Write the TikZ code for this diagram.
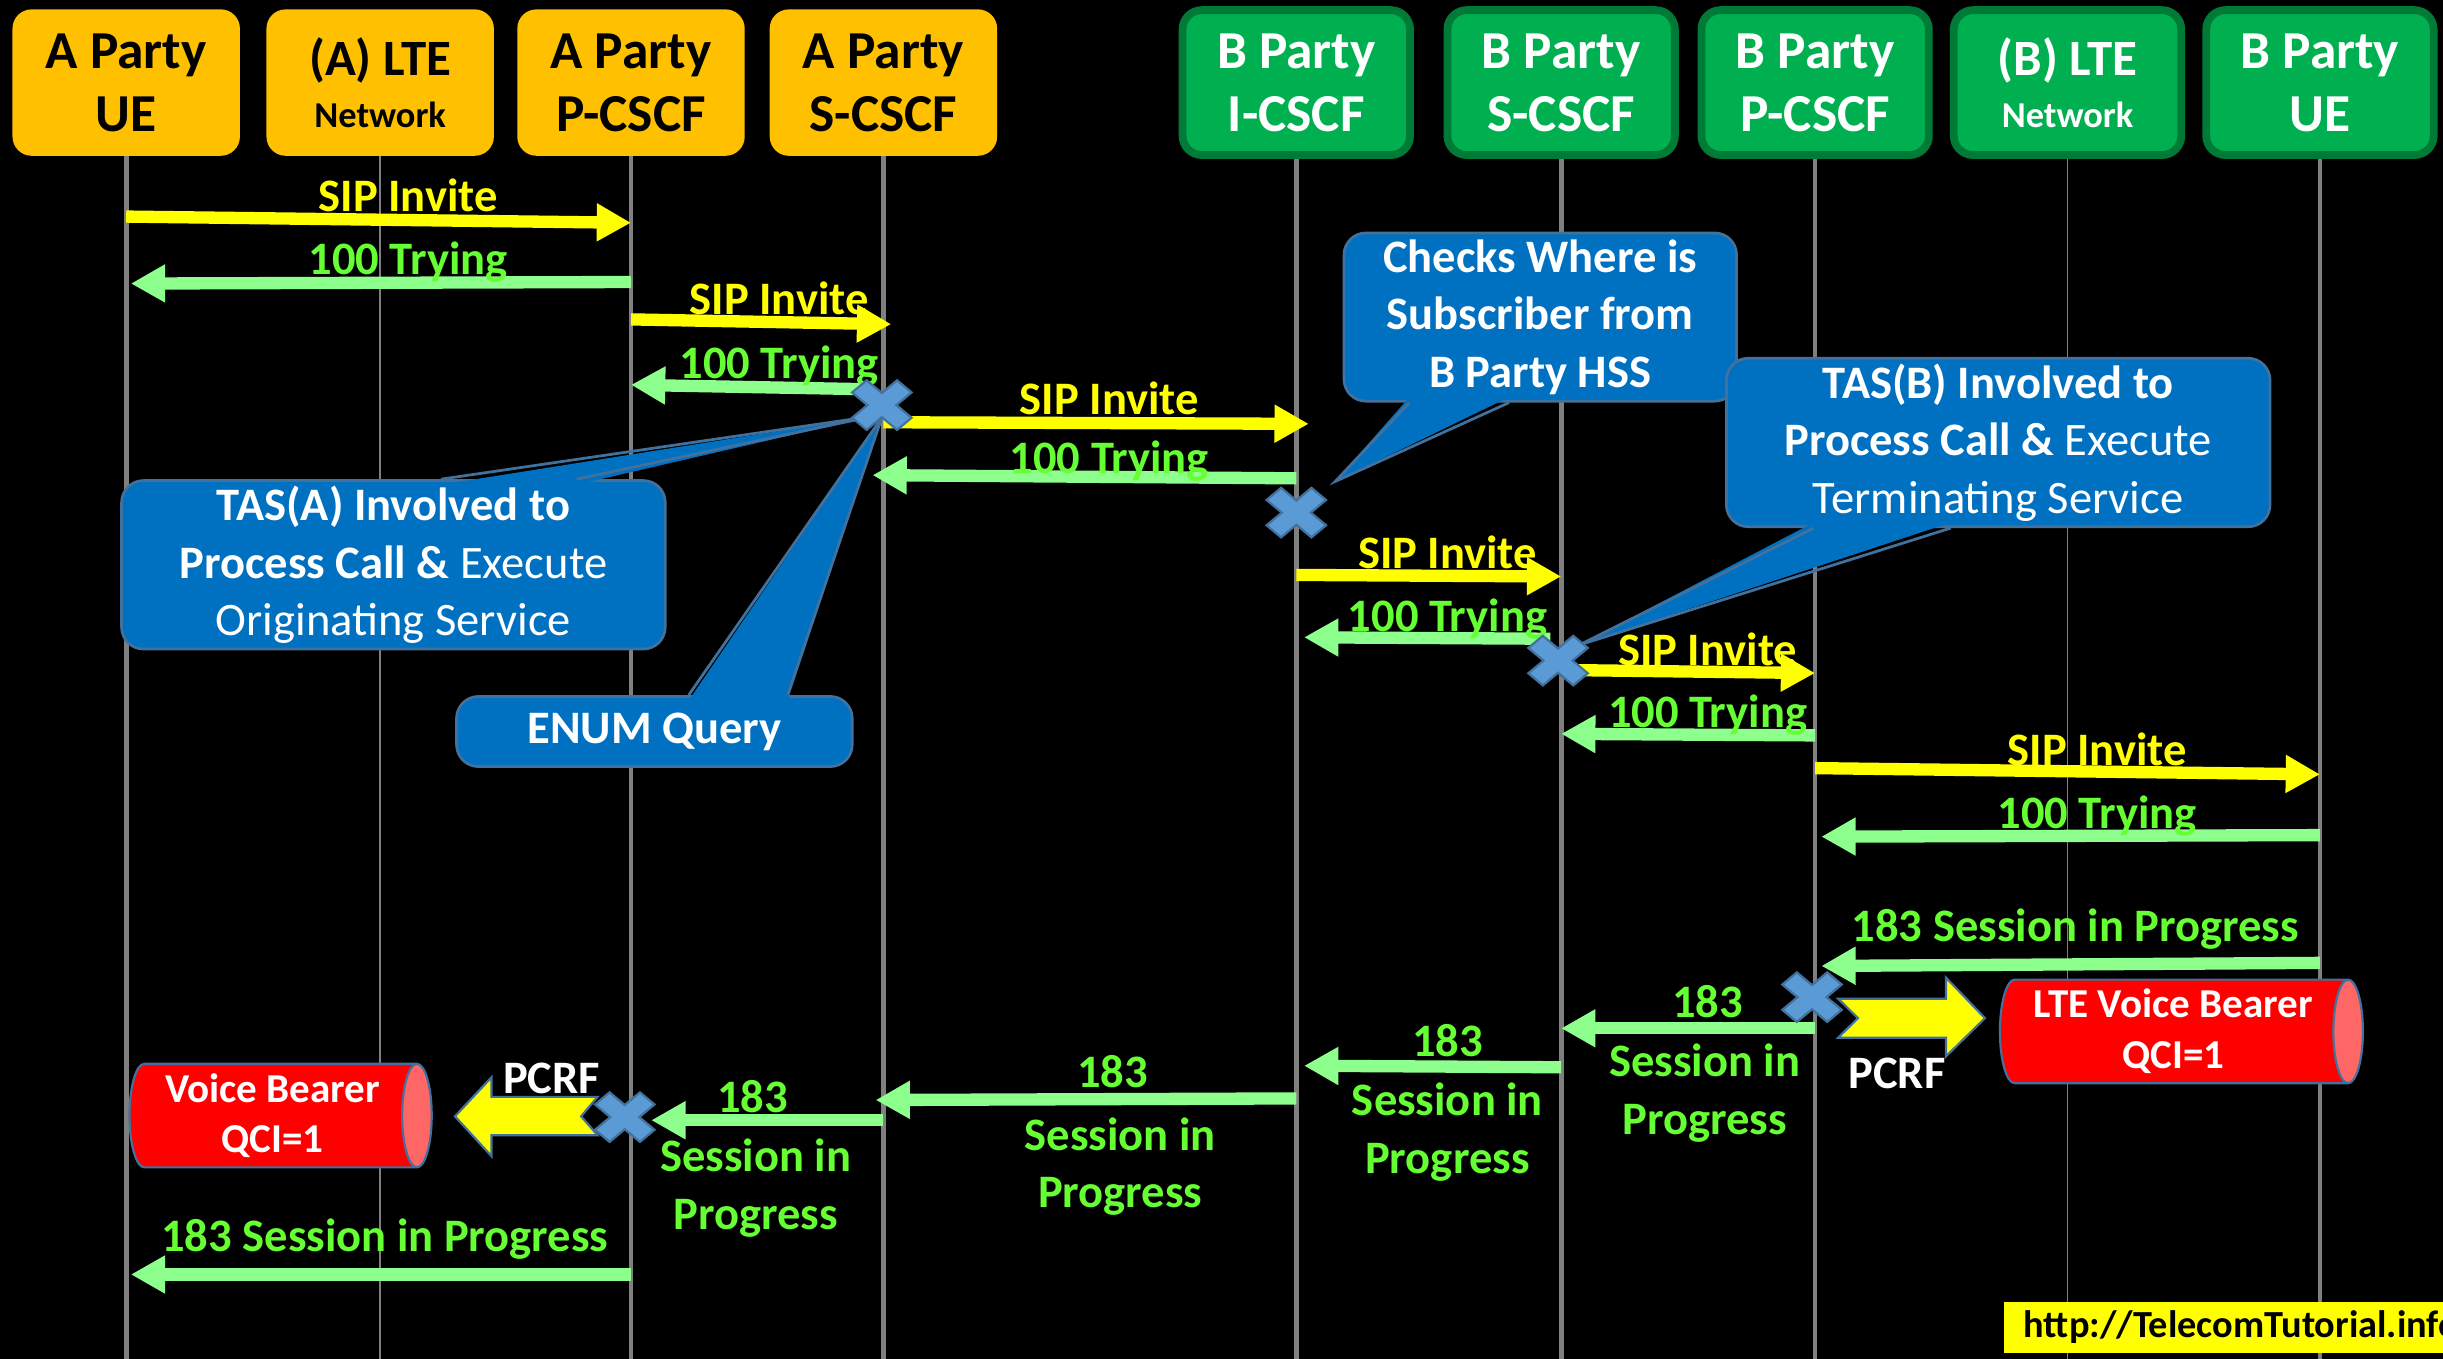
\documentclass[tikz,border=0pt]{standalone}
\definecolor{hdrorange}{RGB}{255, 192, 0}
\definecolor{hdrgreen}{RGB}{0, 176, 80}
\definecolor{hdrgreenline}{RGB}{0, 122, 55}
\definecolor{sipyellow}{RGB}{255, 255, 0}
\definecolor{tryarrow}{RGB}{140, 255, 140}
\definecolor{trytext}{RGB}{102, 255, 51}
\definecolor{noteblue}{RGB}{0, 112, 192}
\definecolor{noteline}{RGB}{65, 113, 156}
\definecolor{markblue}{RGB}{91, 155, 213}
\definecolor{lifegray}{RGB}{127, 127, 127}
\definecolor{bearerred}{RGB}{255, 0, 0}
\definecolor{bearerend}{RGB}{255, 102, 102}
\usepackage{fontspec}
\setmainfont{Carlito}
\usepackage{tikz}
\usetikzlibrary{shapes.geometric, arrows.meta, positioning}

\newcommand\hdrfont{\fontsize{19.5}{23}\selectfont\bfseries}
\newcommand\ltefont{\fontsize{18.6}{22}\selectfont}
\newcommand\netfont{\fontsize{13.3}{16}\selectfont}
\newcommand\msgfont{\fontsize{17}{21}\selectfont\bfseries}
\newcommand\bearerfont{\fontsize{15}{18.5}\selectfont\bfseries}
\newcommand\urlfont{\fontsize{14}{17}\selectfont\bfseries}

\tikzset{
  hdrA/.style={fill=hdrorange, rounded corners=7pt, minimum width=2.92cm, minimum height=1.88cm, align=center, text=black, font=\hdrfont, inner sep=2pt},
  hdrB/.style={fill=hdrgreen, draw=hdrgreenline, line width=0.1cm, rounded corners=7pt, minimum width=2.92cm, minimum height=1.86cm, align=center, text=white, font=\hdrfont, inner sep=2pt},
  lifeline/.style={draw=lifegray, line width=1.7pt},
  thinline/.style={draw=lifegray, line width=0.6pt},
  sipmsg/.style={draw=sipyellow, line width=4.5pt, -{Triangle[length=0.44cm, width=0.46cm]}},
  trymsg/.style={draw=tryarrow, line width=4.5pt, -{Triangle[length=0.44cm, width=0.46cm]}},
  siplbl/.style={text=sipyellow, font=\msgfont, anchor=base, inner sep=0pt},
  trylbl/.style={text=trytext, font=\msgfont, anchor=base, inner sep=0pt, align=center},
  note/.style={fill=noteblue, draw=noteline, line width=1pt, rounded corners=8pt, text=white, align=center, font=\msgfont, inner sep=2pt},
  notetip/.style={draw=noteline, line width=1pt},
  bearer/.style={cylinder, cylinder uses custom fill, cylinder body fill=bearerred, cylinder end fill=bearerend, draw=noteline, line width=0.8pt, aspect=0.35, minimum width=1.33cm, text=white, font=\bearerfont, align=center, inner sep=0pt},
  pcrflbl/.style={text=white, font=\msgfont, inner sep=1pt},
  blockarrow/.style={fill=sipyellow, draw=noteline, line width=0.8pt},
  pics/xmark/.style={code={
    \filldraw[fill=markblue, draw=noteline, line width=0.8pt, xscale=1.2, rotate=45]
      (-5.5,17) -- (5.5,17) -- (5.5,5.5) -- (17,5.5) -- (17,-5.5) -- (5.5,-5.5) -- (5.5,-17)
      -- (-5.5,-17) -- (-5.5,-5.5) -- (-17,-5.5) -- (-17,5.5) -- (-5.5,5.5) -- cycle;
  }}
}

\begin{document}
\begin{tikzpicture}[x=0.02cm, y=-0.02cm]
  \useasboundingbox (0,0) rectangle (1568,872);
  \fill[black] (0,0) rectangle (1568,872);

  % Entities
  \node[hdrA] (hUeA) at (81,53) {A Party\\UE};
  \node[hdrA] (hLteA) at (244,53) {{\ltefont (A) LTE}\\[-4pt]{\netfont Network}};
  \node[hdrA] (hPcscfA) at (405,53) {A Party\\P-CSCF};
  \node[hdrA] (hScscfA) at (567,53) {A Party\\S-CSCF};
  \node[hdrB] (hIcscfB) at (832,53) {B Party\\I-CSCF};
  \node[hdrB] (hScscfB) at (1002,53) {B Party\\S-CSCF};
  \node[hdrB] (hPcscfB) at (1165,53) {B Party\\P-CSCF};
  \node[hdrB] (hLteB) at (1327,53) {{\ltefont (B) LTE}\\[-4pt]{\netfont Network}};
  \node[hdrB] (hUeB) at (1489,53) {B Party\\UE};

  % Lifelines
  \coordinate (ueA) at (81,872);
  \coordinate (lteA) at (244,872);
  \coordinate (pcscfA) at (405,872);
  \coordinate (scscfA) at (567,872);
  \coordinate (icscfB) at (832,872);
  \coordinate (scscfB) at (1002,872);
  \coordinate (pcscfB) at (1165,872);
  \coordinate (lteB) at (1327,872);
  \coordinate (ueB) at (1489,872);
  \draw[lifeline] (hUeA) -- (ueA);
  \draw[thinline] (hLteA) -- (lteA);
  \draw[lifeline] (hPcscfA) -- (pcscfA);
  \draw[lifeline] (hScscfA) -- (scscfA);
  \draw[lifeline] (hIcscfB) -- (icscfB);
  \draw[lifeline] (hScscfB) -- (scscfB);
  \draw[lifeline] (hPcscfB) -- (pcscfB);
  \draw[thinline] (hLteB) -- (lteB);
  \draw[lifeline] (hUeB) -- (ueB);

  % Trigger points
  \coordinate (xs1) at (566,260);
  \coordinate (xs2) at (832,329);
  \coordinate (xs3) at (1000,424);
  \coordinate (xs4) at (1163,640);
  \coordinate (xs5) at (401,717);

  % Messages
  \draw[sipmsg] (ueA |- 0,139) -- (pcscfA |- 0,143);
  \draw[trymsg, shorten >=0.06cm] (pcscfA |- 0,181) -- (ueA |- 0,182);
  \draw[sipmsg, shorten >=-0.1cm] (pcscfA |- 0,205) -- (scscfA |- 0,208);
  \draw[trymsg, shorten <=0.3cm] (scscfA |- 0,250) -- (pcscfA |- 0,247);
  \draw[sipmsg, shorten >=-0.16cm] (scscfA |- 0,271) -- (icscfB |- 0,272);
  \draw[trymsg, shorten >=-0.14cm] (icscfB |- 0,307) -- (scscfA |- 0,305);
  \draw[sipmsg] (icscfB |- 0,369) -- (scscfB |- 0,370);
  \draw[trymsg, shorten <=0.14cm, shorten >=0.1cm] (scscfB |- 0,410) -- (icscfB |- 0,409);
  \draw[sipmsg] (scscfB |- 0,430) -- (pcscfB |- 0,432);
  \draw[trymsg] (pcscfB |- 0,472) -- (scscfB |- 0,471);
  \draw[sipmsg] (pcscfB |- 0,493) -- (ueB |- 0,497);
  \draw[trymsg, shorten >=0.08cm] (ueB |- 0,536) -- (pcscfB |- 0,537);
  \draw[trymsg, shorten >=0.08cm] (ueB |- 0,618) -- (pcscfB |- 0,620);
  \draw[trymsg] (pcscfB |- 0,660) -- (scscfB |- 0,660);
  \draw[trymsg, shorten >=0.1cm] (scscfB |- 0,685) -- (icscfB |- 0,684);
  \draw[trymsg, shorten >=-0.1cm] (icscfB |- 0,705) -- (scscfA |- 0,706);
  \draw[trymsg, shorten >=0.26cm] (scscfA |- 0,719) -- (pcscfA |- 0,719);
  \draw[trymsg, shorten >=0.06cm] (pcscfA |- 0,818) -- (ueA |- 0,818);

  % Message labels
  \node[siplbl] (l1) at (262,136) {SIP Invite};
  \node[trylbl] (l2) at (262,176) {100 Trying};
  \node[siplbl] (l3) at (500,202) {SIP Invite};
  \node[trylbl] (l4) at (500,243) {100 Trying};
  \node[siplbl] (l5) at (712,266) {SIP Invite};
  \node[trylbl] (l6) at (712,304) {100 Trying};
  \node[siplbl] (l7) at (929,365) {SIP Invite};
  \node[trylbl] (l8) at (929,405) {100 Trying};
  \node[siplbl] (l9) at (1096,427) {SIP Invite};
  \node[trylbl] (l10) at (1096,467) {100 Trying};
  \node[siplbl] (l11) at (1346,491) {SIP Invite};
  \node[trylbl] (l12) at (1346,532) {100 Trying};
  \node[trylbl] (l13) at (1332,604) {183 Session in Progress};
  \node[trylbl] (l14a) at (1096,653) {183};
  \node[trylbl] (l14b) at (1094,728) {Session in\\Progress};
  \node[trylbl] (l15a) at (929,678) {183};
  \node[trylbl] (l15b) at (929,753) {Session in\\Progress};
  \node[trylbl] (l16a) at (714,698) {183};
  \node[trylbl] (l16b) at (719,775) {Session in\\Progress};
  \node[trylbl] (l17a) at (483,714) {183};
  \node[trylbl] (l17b) at (485,789) {Session in\\Progress};
  \node[trylbl] (l18) at (247,803) {183 Session in Progress};

  % Callouts
  \node[note, minimum width=6.98cm, minimum height=2.1cm] (tasA) at (252.5,362.5)
    {TAS(A) Involved to\\Process Call \& {\mdseries Execute}\\{\mdseries Originating Service}};
  \fill[noteblue] ([xshift=0.61cm, yshift=-2pt]tasA.north) -- ([xshift=-0.1cm, yshift=-0.14cm]xs1) -- ([xshift=2.35cm, yshift=-2pt]tasA.north) -- cycle;
  \draw[notetip] ([xshift=0.61cm]tasA.north) -- ([xshift=-0.1cm, yshift=-0.14cm]xs1) -- ([xshift=2.35cm]tasA.north);

  \node[note, minimum width=5.08cm, minimum height=0.9cm] (enum) at (420,469.5) {ENUM Query};
  \fill[noteblue] ([xshift=0.44cm, yshift=-2pt]enum.north) -- ([yshift=-0.16cm]xs1) -- ([xshift=1.71cm, yshift=-2pt]enum.north) -- cycle;
  \draw[notetip] ([xshift=0.44cm]enum.north) -- ([yshift=-0.16cm]xs1) -- ([xshift=1.71cm]enum.north);

  \node[note, minimum width=5.04cm, minimum height=2.16cm] (hss) at (988.6,203.5)
    {Checks Where is\\Subscriber from\\B Party HSS};
  \fill[noteblue] ([xshift=-1.68cm, yshift=2pt]hss.south) -- ([xshift=0.5cm, yshift=0.4cm]xs2) -- ([xshift=-0.4cm, yshift=2pt]hss.south) -- cycle;
  \draw[notetip] ([xshift=-1.68cm]hss.south) -- ([xshift=0.5cm, yshift=0.4cm]xs2) -- ([xshift=-0.4cm]hss.south);

  \node[note, minimum width=6.98cm, minimum height=2.14cm] (tasB) at (1282.5,284)
    {TAS(B) Involved to\\Process Call \& {\mdseries Execute}\\{\mdseries Terminating Service}};
  \fill[noteblue] ([xshift=-2.37cm, yshift=2pt]tasB.south) -- ([xshift=0.27cm, yshift=0.2cm]xs3) -- ([xshift=-0.61cm, yshift=2pt]tasB.south) -- cycle;
  \draw[notetip] ([xshift=-2.37cm]tasB.south) -- ([xshift=0.27cm, yshift=0.2cm]xs3) -- ([xshift=-0.61cm]tasB.south);

  % Bearers
  \node[bearer, minimum height=3.88cm] (vbA) at (175,716) {Voice Bearer\\QCI=1};
  \filldraw[blockarrow] (292,716.5) -- (315.4,691.5) -- (315.4,704) -- (383.5,704) -- (373,716.5)
    -- (383.5,728.6) -- (315.4,728.6) -- (315.4,742) -- cycle;
  \node[pcrflbl] (pcrfA) at (354,692) {PCRF};

  \node[bearer, minimum height=4.66cm] (vbB) at (1395,662) {LTE Voice Bearer\\QCI=1};
  \filldraw[blockarrow] (1274,653.5) -- (1249,627.5) -- (1249,641) -- (1179.8,641) -- (1192.5,653.5)
    -- (1179.8,666) -- (1249,666) -- (1249,678) -- cycle;
  \node[pcrflbl] (pcrfB) at (1217.6,689) {PCRF};

  % Markers
  \pic at (xs1) {xmark};
  \pic at (xs2) {xmark};
  \pic at (xs3) {xmark};
  \pic at (xs4) {xmark};
  \pic at (xs5) {xmark};

  % Source
  \node[fill=sipyellow, text=black, font=\urlfont, anchor=west, minimum height=0.6cm, inner xsep=0.25cm] (url) at (1286,852) {http://TelecomTutorial.info};
\end{tikzpicture}
\end{document}
